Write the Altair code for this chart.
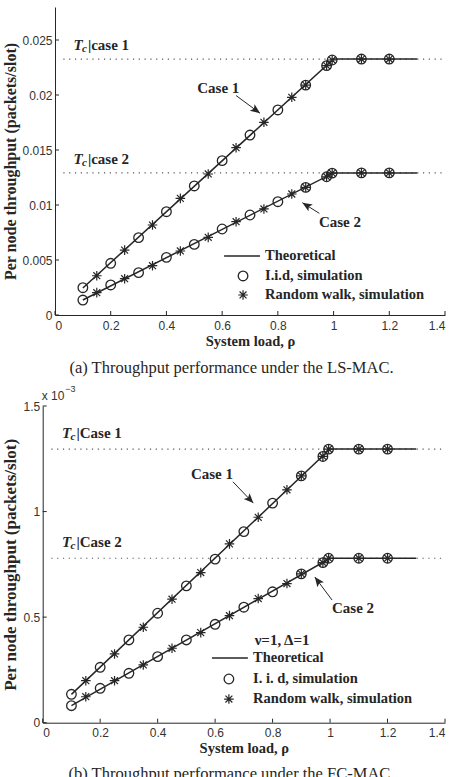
import math
import altair as alt
import pandas as pd

INK = "#262626"
SERIF = "Liberation Serif"
SANS = "Liberation Sans"

# canvas and the two stacked plot frames (pixels)
CANVAS_W, CANVAS_H = 456, 777
FRAME_A = {"left": 55, "right": 445, "top": 7, "bottom": 315}
FRAME_B = {"left": 42.7, "right": 445, "top": 406, "bottom": 722.7}

# system loads at which the simulations were sampled
rho_iid = [0.1, 0.2, 0.3, 0.4, 0.5, 0.6, 0.7, 0.8, 0.9, 0.975, 0.995, 1.1, 1.2]
rho_rw = [0.15, 0.25, 0.35, 0.45, 0.55, 0.65, 0.75, 0.85, 0.9, 0.975, 0.995, 1.1, 1.2]
rho_theory = [0.1, 1.0, 1.3]
x_ticks = [0, 0.2, 0.4, 0.6, 0.8, 1.0, 1.2, 1.4]

# (a) LS-MAC, throughput in packets/slot
ls_case1_theory = [0.00245, 0.02327, 0.02327]
ls_case2_theory = [0.00136, 0.01292, 0.01292]
ls_case1_iid = [0.00248, 0.00470, 0.00703, 0.00939, 0.01173, 0.01403, 0.01636,
                0.01864, 0.02090, 0.02267, 0.02318, 0.02327, 0.02327]
ls_case1_rw = [0.00357, 0.00590, 0.00818, 0.01060, 0.01282, 0.01521, 0.01752,
               0.01979, 0.02090, 0.02267, 0.02318, 0.02327, 0.02327]
ls_case2_iid = [0.00136, 0.00273, 0.00385, 0.00524, 0.00642, 0.00782, 0.00909,
                0.01030, 0.01160, 0.01257, 0.01290, 0.01292, 0.01292]
ls_case2_rw = [0.00203, 0.00330, 0.00448, 0.00582, 0.00706, 0.00848, 0.00964,
               0.01100, 0.01160, 0.01257, 0.01290, 0.01292, 0.01292]
ls_tc = [0.02327, 0.01292]
ls_y_ticks = [0, 0.005, 0.01, 0.015, 0.02, 0.025]

# (b) FC-MAC, throughput in units of 1e-3 packets/slot
fc_case1_theory = [0.134, 1.296, 1.296]
fc_case2_theory = [0.0806, 0.779, 0.779]
fc_case1_iid = [0.1346, 0.2625, 0.392, 0.5185, 0.648, 0.775, 0.905,
                1.040, 1.169, 1.261, 1.296, 1.296, 1.296]
fc_case1_rw = [0.199, 0.3256, 0.452, 0.585, 0.711, 0.847, 0.973,
               1.103, 1.169, 1.261, 1.296, 1.296, 1.296]
fc_case2_iid = [0.0806, 0.163, 0.234, 0.313, 0.392, 0.466, 0.547,
                0.620, 0.705, 0.758, 0.779, 0.779, 0.779]
fc_case2_rw = [0.123, 0.199, 0.2735, 0.3526, 0.4265, 0.507, 0.588,
               0.659, 0.705, 0.758, 0.779, 0.779, 0.779]
fc_tc = [1.296, 0.779]
fc_y_ticks = [0, 0.5, 1.0, 1.5]

ASTERISK = "M-1,0L1,0M0,-1L0,1M-0.72,-0.72L0.72,0.72M-0.72,0.72L0.72,-0.72"
ARROW_HEAD = "M0,0L0.42,1L0,0.78L-0.42,1Z"
CIRCLE_SIZE = 92
STAR_SIZE = 92


def build_panel(fr, y_max, y_ticks, y_fmt, y_title_size, y_title_pad,
                x_label_pad, x_title_pad, theory, iid, rw, tc, tc_labels,
                case_notes, arrows, legend, caption, extra=None):
    xs = alt.Scale(domain=[0, 1.4], range=[fr["left"], fr["right"]],
                   nice=False, zero=False)
    ys = alt.Scale(domain=[0, y_max], range=[fr["bottom"], fr["top"]],
                   nice=False, zero=False)
    x_axis = alt.Axis(values=x_ticks, format=".1~f", title="System load, ρ",
                      orient="bottom", offset=-(CANVAS_H - fr["bottom"]),
                      grid=False, ticks=False, tickSize=0, labelPadding=x_label_pad,
                      titlePadding=x_title_pad, titleFontSize=14.5)
    y_axis = alt.Axis(values=y_ticks, format=y_fmt, orient="left",
                      offset=-fr["left"],
                      title="Per node throughput (packets/slot)",
                      grid=False, ticks=False, tickSize=0, labelPadding=3,
                      titlePadding=y_title_pad, titleFontSize=y_title_size)

    def X(f="x"):
        return alt.X(f"{f}:Q", scale=xs, axis=x_axis)

    def Y(f="y"):
        return alt.Y(f"{f}:Q", scale=ys, axis=y_axis)

    layers = []

    # saturation throughput levels
    tc_df = pd.DataFrame({"x": [0.03] * len(tc), "x2": [1.4] * len(tc), "y": tc})
    layers.append(alt.Chart(tc_df).mark_rule(color="#555", strokeWidth=1.2,
                                             strokeDash=[1.2, 4.6])
                  .encode(x=X(), x2="x2:Q", y=Y()))

    # theoretical curves
    th_rows = []
    for case, ys_ in theory.items():
        for xv, yv in zip(rho_theory, ys_):
            th_rows.append({"x": xv, "y": yv, "case": case})
    layers.append(alt.Chart(pd.DataFrame(th_rows))
                  .mark_line(color=INK, strokeWidth=1.5)
                  .encode(x=X(), y=Y(), detail="case:N"))

    # i.i.d. simulation points
    iid_rows = [{"x": xv, "y": yv} for ys_ in iid for xv, yv in zip(rho_iid, ys_)]
    layers.append(alt.Chart(pd.DataFrame(iid_rows))
                  .mark_point(shape="circle", filled=False, size=CIRCLE_SIZE,
                              strokeWidth=1.3, color=INK, opacity=1)
                  .encode(x=X(), y=Y()))

    # random-walk simulation points
    rw_rows = [{"x": xv, "y": yv} for ys_ in rw for xv, yv in zip(rho_rw, ys_)]
    layers.append(alt.Chart(pd.DataFrame(rw_rows))
                  .mark_point(shape=ASTERISK, filled=False, size=STAR_SIZE,
                              strokeWidth=1.2, color=INK, opacity=1)
                  .encode(x=X(), y=Y()))

    # inward tick marks
    layers.append(alt.Chart(pd.DataFrame({"x": x_ticks}))
                  .mark_rule(color=INK, strokeWidth=1)
                  .encode(x=X(), y=alt.value(fr["bottom"]),
                          y2=alt.value(fr["bottom"] - 4)))
    layers.append(alt.Chart(pd.DataFrame({"y": y_ticks}))
                  .mark_rule(color=INK, strokeWidth=1)
                  .encode(y=Y(), x=alt.value(fr["left"]),
                          x2=alt.value(fr["left"] + 4)))

    # T_c | case labels
    tcl = pd.DataFrame(tc_labels)
    layers.append(alt.Chart(tcl).mark_text(font=SERIF, fontSize=15, fontWeight="bold",
                                           fontStyle="italic", align="left",
                                           baseline="middle", color=INK)
                  .encode(x=X(), y=Y(), text=alt.value("T")))
    layers.append(alt.Chart(tcl).mark_text(font=SERIF, fontSize=11, fontWeight="bold",
                                           fontStyle="italic", align="left",
                                           baseline="middle", color=INK, dx=8.5, dy=4)
                  .encode(x=X(), y=Y(), text=alt.value("c")))
    layers.append(alt.Chart(tcl).mark_text(font=SERIF, fontSize=15, fontWeight="bold",
                                           align="left", baseline="middle",
                                           color=INK, dx=14.5)
                  .encode(x=X(), y=Y(), text="label:N"))

    # case annotations
    layers.append(alt.Chart(pd.DataFrame(case_notes))
                  .mark_text(font=SERIF, fontSize=15, fontWeight="bold",
                             align="center", baseline="middle", color=INK)
                  .encode(x=X(), y=Y(), text="label:N"))

    # arrows pointing at the curves
    ar = pd.DataFrame(arrows)
    px_x = (fr["right"] - fr["left"]) / 1.4
    px_y = (fr["bottom"] - fr["top"]) / y_max
    ar["angle"] = [
        math.degrees(math.atan2((r.hx - r.tx) * px_x, (r.hy - r.ty) * px_y))
        for r in ar.itertuples()
    ]
    layers.append(alt.Chart(ar).mark_rule(color=INK, strokeWidth=1)
                  .encode(x=alt.X("tx:Q", scale=xs, axis=x_axis),
                          y=alt.Y("ty:Q", scale=ys, axis=y_axis),
                          x2="hx:Q", y2="hy:Q"))
    layers.append(alt.Chart(ar).mark_point(shape=ARROW_HEAD, filled=True, size=380,
                                           color=INK, opacity=1, strokeWidth=0)
                  .encode(x=alt.X("hx:Q", scale=xs, axis=x_axis),
                          y=alt.Y("hy:Q", scale=ys, axis=y_axis),
                          angle=alt.Angle("angle:Q", scale=None)))

    # legend block
    lg = legend
    layers.append(alt.Chart(pd.DataFrame([lg["line"]]))
                  .mark_rule(color=INK, strokeWidth=1.5)
                  .encode(x=X("x"), x2="x2:Q", y=Y("y")))
    layers.append(alt.Chart(pd.DataFrame([lg["circle"]]))
                  .mark_point(shape="circle", filled=False, size=CIRCLE_SIZE,
                              strokeWidth=1.3, color=INK, opacity=1)
                  .encode(x=X(), y=Y()))
    layers.append(alt.Chart(pd.DataFrame([lg["star"]]))
                  .mark_point(shape=ASTERISK, filled=False, size=STAR_SIZE,
                              strokeWidth=1.2, color=INK, opacity=1)
                  .encode(x=X(), y=Y()))
    layers.append(alt.Chart(pd.DataFrame(lg["texts"]))
                  .mark_text(font=SERIF, fontSize=14.5, fontWeight="bold",
                             align="left", baseline="middle", color=INK)
                  .encode(x=X(), y=Y(), text="label:N"))

    # sub-figure caption below the axis title
    layers.append(alt.Chart(pd.DataFrame([caption]))
                  .mark_text(font=SERIF, fontSize=16.5, align="center",
                             baseline="middle", color=INK)
                  .encode(x=X(), y=Y(), text="label:N"))

    if extra:
        layers.extend(extra(X, Y))

    return alt.layer(*layers)


top = build_panel(
    FRAME_A, 0.028, ls_y_ticks, ".3~f", 16, 3, 5, 3,
    theory={"1": ls_case1_theory, "2": ls_case2_theory},
    iid=[ls_case1_iid, ls_case2_iid],
    rw=[ls_case1_rw, ls_case2_rw],
    tc=ls_tc,
    tc_labels=[{"x": 0.066, "y": 0.02455, "label": "|case 1"},
               {"x": 0.066, "y": 0.01415, "label": "|case 2"}],
    case_notes=[{"x": 0.586, "y": 0.0206, "label": "Case 1"},
                {"x": 1.023, "y": 0.00843, "label": "Case 2"}],
    arrows=[{"tx": 0.65, "ty": 0.01995, "hx": 0.736, "hy": 0.01834},
            {"tx": 0.949, "ty": 0.00924, "hx": 0.888, "hy": 0.01021}],
    legend={
        "line": {"x": 0.607, "x2": 0.736, "y": 0.00536},
        "circle": {"x": 0.675, "y": 0.00355},
        "star": {"x": 0.675, "y": 0.00182},
        "texts": [{"x": 0.754, "y": 0.00536, "label": "Theoretical"},
                  {"x": 0.754, "y": 0.00355, "label": "I.i.d, simulation"},
                  {"x": 0.754, "y": 0.00182, "label": "Random walk, simulation"}],
    },
    caption={"x": 0.6335, "y": -0.00482,
             "label": "(a) Throughput performance under the LS-MAC."},
)


def fc_extras(X, Y):
    # exponent note above the y axis and the parameter line of the legend
    exp_df = pd.DataFrame([{"x": 0.0, "y": 1.5}])
    note_df = pd.DataFrame([{"x": 0.833, "y": 0.392, "label": "ν=1, Δ=1"}])
    return [
        alt.Chart(exp_df).mark_text(font=SANS, fontSize=12, color="#333",
                                    align="left", baseline="middle", dx=-1, dy=-10)
        .encode(x=X(), y=Y(), text=alt.value("x 10")),
        alt.Chart(exp_df).mark_text(font=SANS, fontSize=9, color="#333",
                                    align="left", baseline="middle", dx=22.5, dy=-17)
        .encode(x=X(), y=Y(), text=alt.value("−3")),
        alt.Chart(note_df).mark_text(font=SERIF, fontSize=15, fontWeight="bold",
                                     align="center", baseline="middle", color=INK)
        .encode(x=X(), y=Y(), text="label:N"),
    ]


bottom = build_panel(
    FRAME_B, 1.5, fc_y_ticks, ".1~f", 17, 4, 4.5, 3.5,
    theory={"1": fc_case1_theory, "2": fc_case2_theory},
    iid=[fc_case1_iid, fc_case2_iid],
    rw=[fc_case1_rw, fc_case2_rw],
    tc=fc_tc,
    tc_labels=[{"x": 0.067, "y": 1.373, "label": "|Case 1"},
               {"x": 0.067, "y": 0.856, "label": "|Case 2"}],
    case_notes=[{"x": 0.589, "y": 1.178, "label": "Case 1"},
                {"x": 1.080, "y": 0.544, "label": "Case 2"}],
    arrows=[{"tx": 0.662, "ty": 1.141, "hx": 0.733, "hy": 1.040},
            {"tx": 1.007, "ty": 0.581, "hx": 0.947, "hy": 0.690}],
    legend={
        "line": {"x": 0.589, "x2": 0.714, "y": 0.307},
        "circle": {"x": 0.648, "y": 0.207},
        "star": {"x": 0.648, "y": 0.112},
        "texts": [{"x": 0.732, "y": 0.307, "label": "Theoretical"},
                  {"x": 0.732, "y": 0.207, "label": "I. i. d, simulation"},
                  {"x": 0.732, "y": 0.112, "label": "Random walk, simulation"}],
    },
    caption={"x": 0.657, "y": -0.243,
             "label": "(b) Throughput performance under the FC-MAC."},
    extra=fc_extras,
)

chart = (
    alt.layer(top, bottom)
    .resolve_scale(x="independent", y="independent")
    .resolve_axis(x="independent", y="independent")
    .properties(width=CANVAS_W, height=CANVAS_H, padding=0,
                autosize=alt.AutoSizeParams(type="none"), background="white")
    .configure_view(stroke=None)
    .configure_axis(domainColor=INK, domainWidth=1, labelFont=SANS, labelFontSize=12,
                    labelColor="#333", titleFont=SERIF, titleFontWeight="bold",
                    titleColor=INK)
)

chart.save("out.html", embed_options={"renderer": "svg", "actions": False})
